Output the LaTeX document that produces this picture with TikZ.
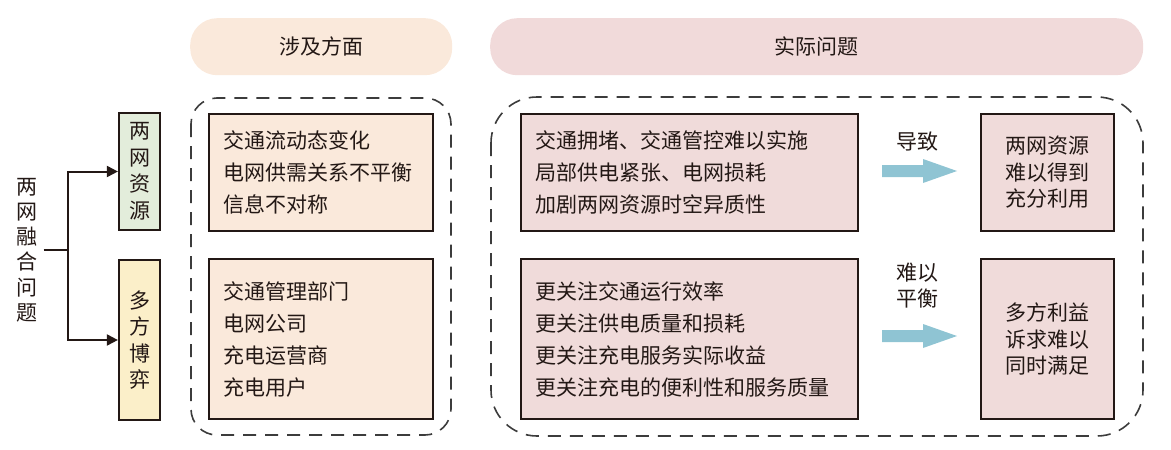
\documentclass[tikz,border=0pt]{standalone}
\usepackage{fontspec}
\setmainfont{Noto Sans CJK SC}
\usetikzlibrary{arrows.meta}
\definecolor{ln}{HTML}{231815}
\definecolor{dashc}{HTML}{3C3C3C}
\definecolor{greenf}{HTML}{E3EDDB}
\definecolor{yellowf}{HTML}{FBEFC9}
\definecolor{peachf}{HTML}{FAE9DB}
\definecolor{pinkf}{HTML}{F0DBDA}
\definecolor{pinkh}{HTML}{F1DADA}
\definecolor{arrowc}{HTML}{8FC4D3}
\begin{document}
\begin{tikzpicture}[x=1pt,y=-1pt,
  every node/.style={font=\fontsize{21}{32}\selectfont, text=ln},
  box/.style={draw=ln, line width=2.2pt, inner sep=0pt},
  vbox/.style={box, minimum width=41pt, align=center, font=\fontsize{21}{26.5}\selectfont},
  listbox/.style={box, align=left, inner xsep=14pt, anchor=north west},
  resbox/.style={box, minimum width=133pt, align=center, anchor=north west, font=\fontsize{21}{26.5}\selectfont},
  header/.style={rounded corners=27pt, minimum height=57pt, anchor=north west},
  dashbox/.style={draw=dashc, line width=1.6pt, dash pattern=on 13pt off 9pt},
  conn/.style={draw=ln, line width=2pt},
  bigarrow/.style={fill=arrowc},
  lbl/.style={align=center, font=\fontsize{21}{26}\selectfont}
]
\useasboundingbox (0,0) rectangle (1171,450);

% headers
\node[header, fill=peachf, minimum width=262pt] (h1) at (190,18) {涉及方面};
\node[header, fill=pinkh, minimum width=653pt] (h2) at (490,18) {实际问题};

% dashed containers
\draw[dashbox, rounded corners=26pt] (191,98) rectangle (451,435);
\draw[dashbox, rounded corners=46pt] (491,97) rectangle (1143,436);

% left title
\node[align=center, font=\fontsize{21}{25.2}\selectfont, inner xsep=6pt] (title) at (27,250) {两\\网\\融\\合\\问\\题};

% category boxes
\node[vbox, fill=greenf, minimum height=117pt] (res) at (139.5,171.5) {两\\网\\资\\源};
\node[vbox, fill=yellowf, minimum height=160pt] (game) at (139.5,340) {多\\方\\博\\弈};

\coordinate (br) at (68,250);
\draw[conn] (title.east) -- (br);
\draw[conn, -{Triangle[length=11pt,width=11pt]}] (br) |- (res.west);
\draw[conn, -{Triangle[length=11pt,width=11pt]}] (br) |- (game.west);

% aspect boxes
\node[listbox, fill=peachf, text width=196pt, minimum height=117pt] (a1) at (208,113)
  {交通流动态变化\\电网供需关系不平衡\\信息不对称};
\node[listbox, fill=peachf, text width=196pt, minimum height=160pt] (a2) at (208,258)
  {交通管理部门\\电网公司\\充电运营商\\充电用户};

% problem boxes
\node[listbox, fill=pinkf, text width=309pt, minimum height=117pt] (p1) at (520,113)
  {交通拥堵、交通管控难以实施\\局部供电紧张、电网损耗\\加剧两网资源时空异质性};
\node[listbox, fill=pinkf, text width=309pt, minimum height=160pt] (p2) at (520,258)
  {更关注交通运行效率\\更关注供电质量和损耗\\更关注充电服务实际收益\\更关注充电的便利性和服务质量};

% result boxes
\node[resbox, fill=pinkf, minimum height=117pt] (r1) at (980,113) {两网资源\\难以得到\\充分利用};
\node[resbox, fill=pinkf, minimum height=160pt] (r2) at (980,258) {多方利益\\诉求难以\\同时满足};

% big arrows
\coordinate (ar1) at (882,171);
\coordinate (ar2) at (882,336);
\foreach \a in {ar1,ar2}
  \fill[bigarrow] (\a) ++(0,-6) -- ++(41,0) -- ++(0,-6) -- ++(34,12) -- ++(-34,12) -- ++(0,-6) -- ++(-41,0) -- cycle;
\node[lbl] (l1) at (917,142) {导致};
\node[lbl] (l2) at (917,286) {难以\\平衡};
\end{tikzpicture}
\end{document}
